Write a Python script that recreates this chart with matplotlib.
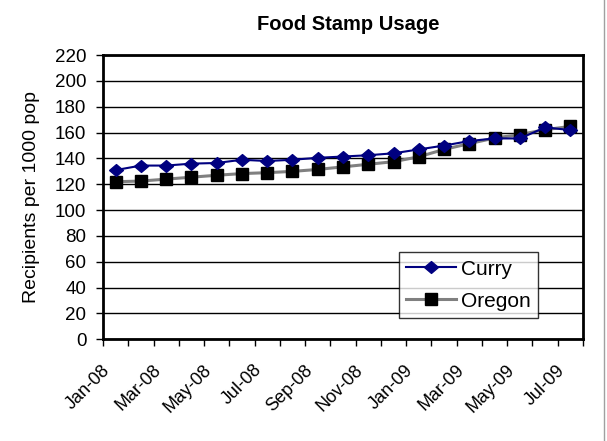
import matplotlib.pyplot as plt
import numpy as np
from matplotlib.lines import Line2D
from matplotlib.transforms import ScaledTranslation

plt.rcParams['font.family'] = ['Liberation Sans', 'DejaVu Sans']

# ================= DATA =================
months = ["Jan-08", "Feb-08", "Mar-08", "Apr-08", "May-08", "Jun-08", "Jul-08",
          "Aug-08", "Sep-08", "Oct-08", "Nov-08", "Dec-08", "Jan-09", "Feb-09",
          "Mar-09", "Apr-09", "May-09", "Jun-09", "Jul-09"]
curry = [131, 134.5, 134.5, 136, 136.5, 139, 138, 139, 140.5, 141.5, 142.5,
         144, 147, 150, 153.5, 155.5, 155.5, 164, 162]
oregon = [122, 122.5, 124, 125.5, 127, 128.3, 129, 130, 131.5, 133.5, 135.5,
          137.5, 141.3, 147, 151.5, 155.8, 158.5, 162.3, 164.8]
y_ticks = list(range(0, 221, 20))

# wide, slightly flattened diamond like the spreadsheet marker
diamond = [(-1, 0), (0, 0.85), (1, 0), (0, -0.85), (-1, 0)]

# ================= FIGURE =================
fig = plt.figure(figsize=(6.07, 4.41), dpi=100)
ax = fig.add_axes([0.1697, 0.2306, 0.7908, 0.6444])

x = np.arange(len(months))

ax.plot(x, oregon, color='#808080', linewidth=2.2, marker='s', markersize=9.2,
        markerfacecolor='black', markeredgecolor='black', label='Oregon', zorder=3)
ax.plot(x, curry, color='#000080', linewidth=1.5, marker=diamond, markersize=10,
        markerfacecolor='#000080', markeredgecolor='#000080', label='Curry', zorder=4)

ax.set_xlim(-0.5, len(months) - 0.5)
ax.set_ylim(0, 220)
ax.set_yticks(y_ticks)
ax.tick_params(axis='y', labelsize=13.5, length=5, width=1, direction='out', pad=7)

# category ticks at boundaries, labels every other month
ax.set_xticks(np.arange(-0.5, len(months)), minor=True)
ax.set_xticks(x[::2])
ax.set_xticklabels(months[::2], rotation=45, ha='right', va='top',
                   rotation_mode='anchor', fontsize=13)
ax.tick_params(axis='x', which='major', length=0, pad=16)
ax.tick_params(axis='x', which='minor', length=5, width=1, direction='out')
shift = ScaledTranslation(-14 / 100, 0, fig.dpi_scale_trans)
for lbl in ax.get_xticklabels():
    lbl.set_transform(lbl.get_transform() + shift)

ax.yaxis.grid(True, color='black', linewidth=1)
ax.set_axisbelow(True)
for s in ax.spines.values():
    s.set_linewidth(2)
    s.set_color('black')

ax.set_title("Food Stamp Usage", fontsize=14.5, fontweight='bold', pad=18,
             x=0.51)
ax.set_ylabel("Recipients per 1000 pop", fontsize=14, labelpad=11)

handles, labels = ax.get_legend_handles_labels()
leg = ax.legend(handles[::-1], labels[::-1], loc='upper left',
                bbox_to_anchor=(0.617, 0.306), borderaxespad=0,
                fontsize=15, frameon=True, fancybox=False, handlelength=2.4,
                handletextpad=0.2, borderpad=0.35, labelspacing=0.62)
leg.get_frame().set_edgecolor('black')
leg.get_frame().set_linewidth(1)

# chart area border on the right
fig.add_artist(Line2D([604 / 607, 604 / 607], [0, 1], color='#a0a0a0',
                      linewidth=1, transform=fig.transFigure))

plt.savefig("out.png", dpi=100)
